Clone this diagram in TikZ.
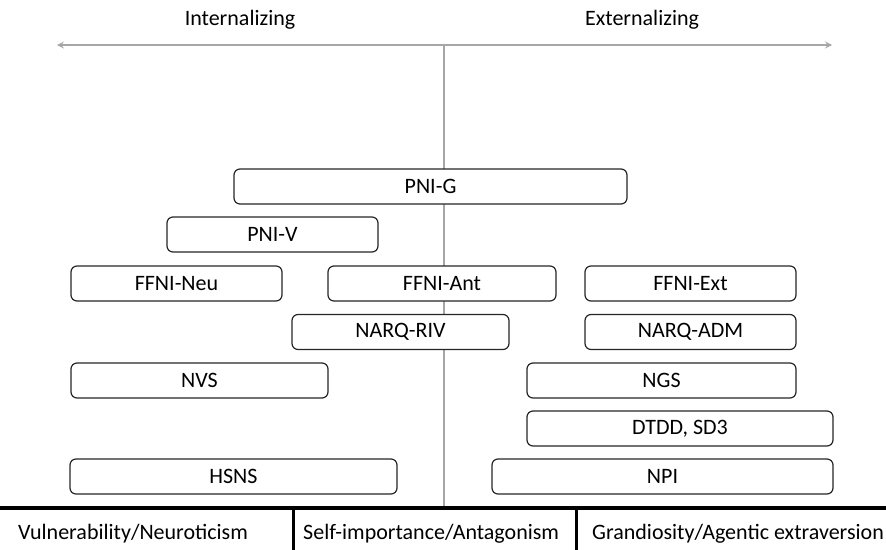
\documentclass[tikz,border=0pt]{standalone}
\usepackage{fontspec}
\setmainfont{Carlito}
\usetikzlibrary{positioning}

\begin{document}
\begin{tikzpicture}[x=1pt,y=-1pt,
    scale box/.style={rectangle,draw=black!85,line width=1.2pt,fill=white,rounded corners=6pt,minimum height=35pt,inner sep=0pt,font=\fontsize{22}{26}\selectfont},
    axis/.style={draw=black!35,line width=2pt},
    lbl/.style={inner sep=0pt,font=\fontsize{22}{26}\selectfont}]
    \useasboundingbox (0,0) rectangle (886,549);
    % axis
    \coordinate (left) at (57,45);
    \coordinate (right) at (832,45);
    \coordinate (top) at (444,45);
    \coordinate (foot) at (444,507);
    \draw[axis,<->,>=stealth] (left)--(right);
    \draw[axis] (top)--(foot);
    \node[lbl] (int) at (240,20) {Internalizing};
    \node[lbl] (ext) at (642,20) {Externalizing};
    % measures
    \node[scale box,minimum width=393pt] (pnig) at (430.5,186.5) {PNI-G};
    \node[scale box,minimum width=211pt] (pniv) at (272.5,234.5) {PNI-V};
    \node[scale box,minimum width=211pt] (ffnineu) at (176.5,283.5) {FFNI-Neu};
    \node[scale box,minimum width=228pt] (ffniant) at (442,283.5) {FFNI-Ant};
    \node[scale box,minimum width=211pt] (ffniext) at (690.5,283.5) {FFNI-Ext};
    \node[scale box,minimum width=217pt] (narqriv) at (400.5,332) {NARQ-RIV};
    \node[scale box,minimum width=211pt] (narqadm) at (690.5,332) {NARQ-ADM};
    \node[scale box,minimum width=257pt] (nvs) at (199.5,380.5) {NVS};
    \node[scale box,minimum width=269pt] (ngs) at (661.5,380.5) {NGS};
    \node[scale box,minimum width=306pt] (dtdd) at (680,428.5) {DTDD, SD3};
    \node[scale box,minimum width=327pt] (hsns) at (233.5,476.5) {HSNS};
    \node[scale box,minimum width=341pt] (npi) at (662.5,476.5) {NPI};
    % dimensions
    \coordinate (barl) at (0,508);
    \coordinate (barr) at (886,508);
    \coordinate (d1) at (293,508);
    \coordinate (d2) at (576,508);
    \draw[line width=4pt] (barl)--(barr);
    \draw[line width=3pt] (d1)--++(0,45);
    \draw[line width=3pt] (d2)--++(0,45);
    \node[lbl,anchor=west] (vul) at (18,534) {Vulnerability/Neuroticism};
    \node[lbl,anchor=west] (self) at (303,534) {Self-importance/Antagonism};
    \node[lbl,anchor=west] (grand) at (592,534) {Grandiosity/Agentic extraversion};
\end{tikzpicture}
\end{document}
